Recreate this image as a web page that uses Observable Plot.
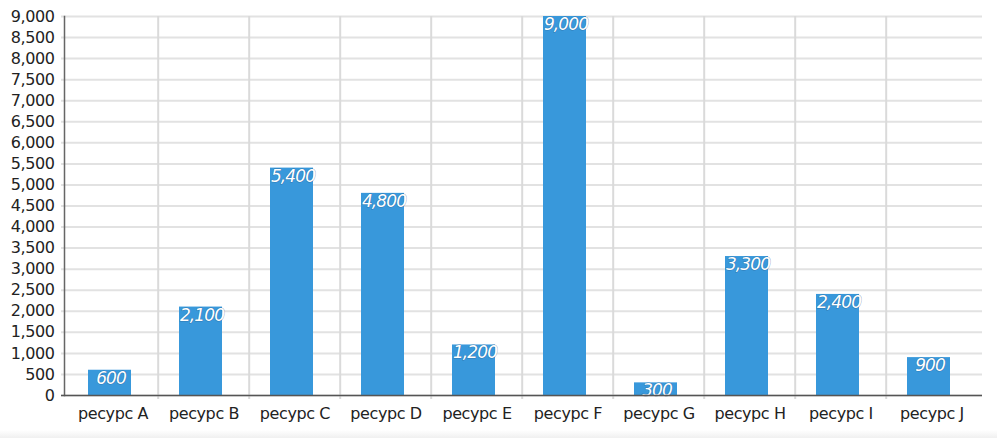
<!DOCTYPE html>
<html><head><meta charset="utf-8">
<script src="https://cdn.jsdelivr.net/npm/d3@7"></script>
<script src="https://cdn.jsdelivr.net/npm/@observablehq/plot@0.6"></script>
<style>
html,body{margin:0;padding:0;background:#fff;}
#chart{position:relative;width:997px;height:438px;}
#shade{position:absolute;left:0;right:0;bottom:0;height:8px;background:linear-gradient(#fff,#f0f0f0);}
#chart svg text{letter-spacing:-0.4px;}
#chart svg g.vals text{letter-spacing:-0.9px;}
</style>
</head><body>
<div id="chart"><div id="shade"></div></div>
<script>
const categories = ["ресурс A","ресурс B","ресурс C","ресурс D","ресурс E","ресурс F","ресурс G","ресурс H","ресурс I","ресурс J"];
const values = [600, 2100, 5400, 4800, 1200, 9000, 300, 3300, 2400, 900];
const yTicks = d3.range(0, 9001, 500);

const data = categories.map((c, i) => ({cat: c, value: values[i]}));
const W = 997, H = 438, mL = 64, mR = 17, mT = 16, mB = 43;
const step = (W - mL - mR) / categories.length;
const font = "'DejaVu Sans',sans-serif";

const plot = Plot.plot({
  width: W, height: H,
  marginLeft: mL, marginRight: mR, marginTop: mT, marginBottom: mB,
  style: {fontFamily: font, background: "transparent", overflow: "visible"},
  x: {domain: categories, padding: 0, label: null},
  y: {domain: [0, 9000], label: null},
  marks: [
    Plot.ruleY(yTicks, {stroke: "#e2e2e2", strokeWidth: 2, insetLeft: -3, insetRight: -2}),
    Plot.ruleX(categories.slice(1), {dx: -step/2, stroke: "#dadada", strokeWidth: 2, insetBottom: -4}),
    Plot.barY(data, {x: "cat", y: "value", fill: "#3898db", insetLeft: 21, insetRight: 27}),
    Plot.text(data, {x: "cat", y: "value", text: d => d3.format(",")(d.value), dx: -2, dy: 8,
      fill: "#fff", stroke: "rgba(30,70,110,0.4)", strokeWidth: 1, paintOrder: "stroke",
      fontSize: 17, fontStyle: "italic", fontWeight: 500, className: "vals"}),
    Plot.frame({anchor: "left", stroke: "#666", strokeWidth: 1.5}),
    Plot.ruleY([0], {stroke: "#555", strokeWidth: 1.5, insetLeft: -3, insetRight: -2}),
    Plot.axisY({ticks: yTicks, tickFormat: d3.format(","), tickSize: 0, tickPadding: 10,
      fontSize: 16, fill: "#222", label: null}),
    Plot.axisX({tickSize: 0, tickPadding: 12, fontSize: 16, fill: "#222", label: null})
  ]
});
plot.style.position = "absolute";
plot.style.left = "0"; plot.style.top = "0";
document.getElementById("chart").appendChild(plot);
</script>
</body></html>
